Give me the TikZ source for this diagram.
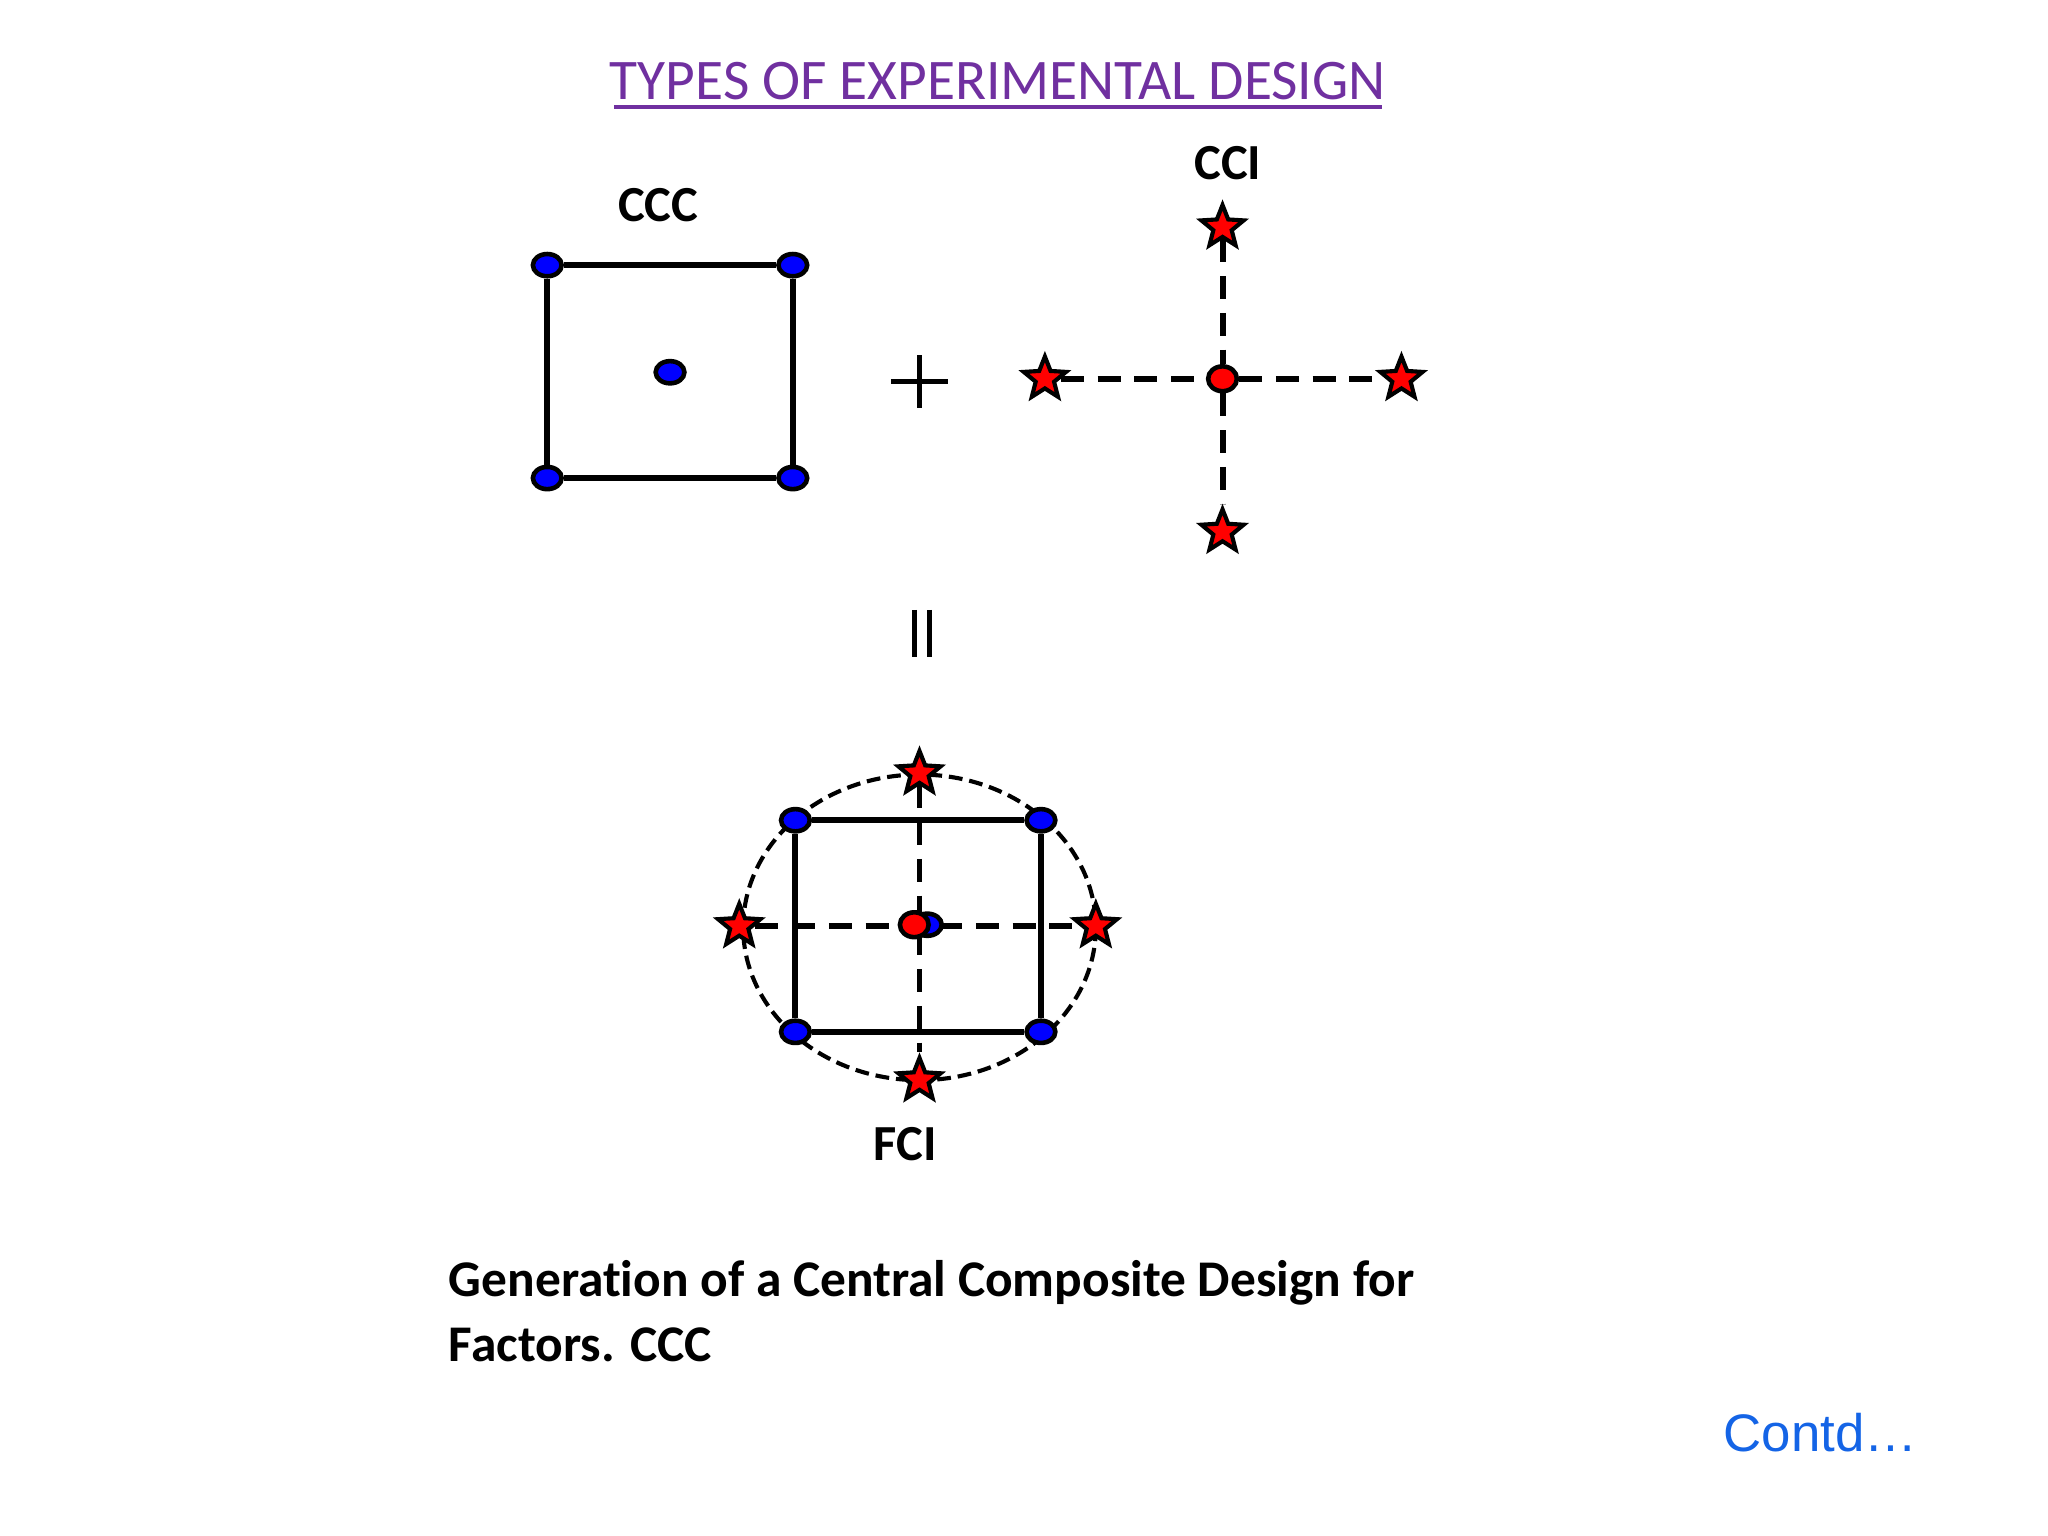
\documentclass[tikz,border=0pt]{standalone}
\usepackage{fontspec}
\setmainfont[Ligatures=NoCommon]{Carlito}
\newfontfamily\arialf{Liberation Sans}
\usetikzlibrary{shapes.geometric}
\begin{document}
\begin{tikzpicture}[x=0.01cm,y=-0.01cm,
  bdot/.style={ellipse,fill=blue,draw=black,line width=1pt,minimum width=0.22cm,minimum height=0.17cm,inner sep=0},
  rdot/.style={ellipse,fill=red,draw=black,line width=1pt,minimum width=0.22cm,minimum height=0.19cm,inner sep=0},
  rstar/.style={star,star points=5,star point ratio=2.3,fill=red,draw=black,line width=0.9pt,minimum size=0.34cm,inner sep=0},
  lbl/.style={font=\bfseries\fontsize{11pt}{13pt}\selectfont},
  sol/.style={line width=1.3pt},
  dsh/.style={line width=1.3pt,dash pattern=on 5pt off 3pt}]
\useasboundingbox (0,0) rectangle (1568,1176);
\definecolor{ttl}{RGB}{112,48,160}
\node[text=ttl,font=\fontsize{12.5pt}{15pt}\selectfont,inner sep=0] (title) at (764,62) {TYPES OF EXPERIMENTAL DESIGN};
\draw[ttl,line width=0.8pt] (470,82) -- (1058,82);
% CCC
\node[lbl] (ccc) at (504,157) {CCC};
\node[bdot] (a1) at (419,203) {}; \node[bdot] (a2) at (607,203) {};
\node[bdot] (a3) at (607,366) {}; \node[bdot] (a4) at (419,366) {};
\draw[sol] (a1) -- (a2) -- (a3) -- (a4) -- (a1);
\node[bdot] (a0) at (513,285) {};
% plus
\coordinate (pl) at (682,292); \coordinate (pr) at (726,292);
\coordinate (pt) at (704,272); \coordinate (pb) at (704,312);
\draw[line width=1.1pt] (pl) -- (pr); \draw[line width=1.1pt] (pt) -- (pb);
% CCI
\node[lbl] (cci) at (940,125) {CCI};
\node[rstar] (s1) at (936,174) {}; \node[rstar] (s2) at (800,290) {};
\node[rstar] (s3) at (1073,290) {}; \node[rstar] (s4) at (936,407) {};
\node[rdot] (s0) at (936,290) {};
\draw[dsh] (s1) -- (s0) -- (s4); \draw[dsh] (s2) -- (s0) -- (s3);
% equals
\coordinate (e1t) at (700,467); \coordinate (e1b) at (700,503);
\coordinate (e2t) at (712,467); \coordinate (e2b) at (712,503);
\draw[line width=1.1pt] (e1t) -- (e1b); \draw[line width=1.1pt] (e2t) -- (e2b);
% FCI
\draw[line width=0.9pt,dash pattern=on 3pt off 1.5pt] (704,710) ellipse [x radius=135,y radius=117];
\node[bdot] (b1) at (609,628) {}; \node[bdot] (b2) at (797,628) {};
\node[bdot] (b3) at (797,790) {}; \node[bdot] (b4) at (609,790) {};
\draw[sol] (b1) -- (b2) -- (b3) -- (b4) -- (b1);
\coordinate (c0) at (704,709);
\node[rstar] (t1) at (704,592) {}; \node[rstar] (t2) at (566,709) {};
\node[rstar] (t3) at (839,709) {}; \node[rstar] (t4) at (704,827) {};
\draw[dsh] (t1) -- (c0) -- (t4); \draw[dsh] (t2) -- (c0) -- (t3);
\node[bdot] (b0b) at (710,708) {};
\node[rdot] (b0) at (700,708) {};
\node[lbl] (fci) at (693,876) {FCI};
% caption
\node[anchor=west,inner sep=0,font=\bfseries\fontsize{11.2pt}{14pt}\selectfont] (cap1) at (343,982) {Generation of a Central Composite Design for};
\node[anchor=west,inner sep=0,font=\bfseries\fontsize{11.2pt}{14pt}\selectfont] (cap2) at (343,1030) {Factors. CCC};
\node[text={rgb,255:red,20;green,100;blue,230},inner sep=0,font=\arialf\fontsize{11.5pt}{14pt}\selectfont] (contd) at (1394,1097) {Contd…};
\end{tikzpicture}
\end{document}
